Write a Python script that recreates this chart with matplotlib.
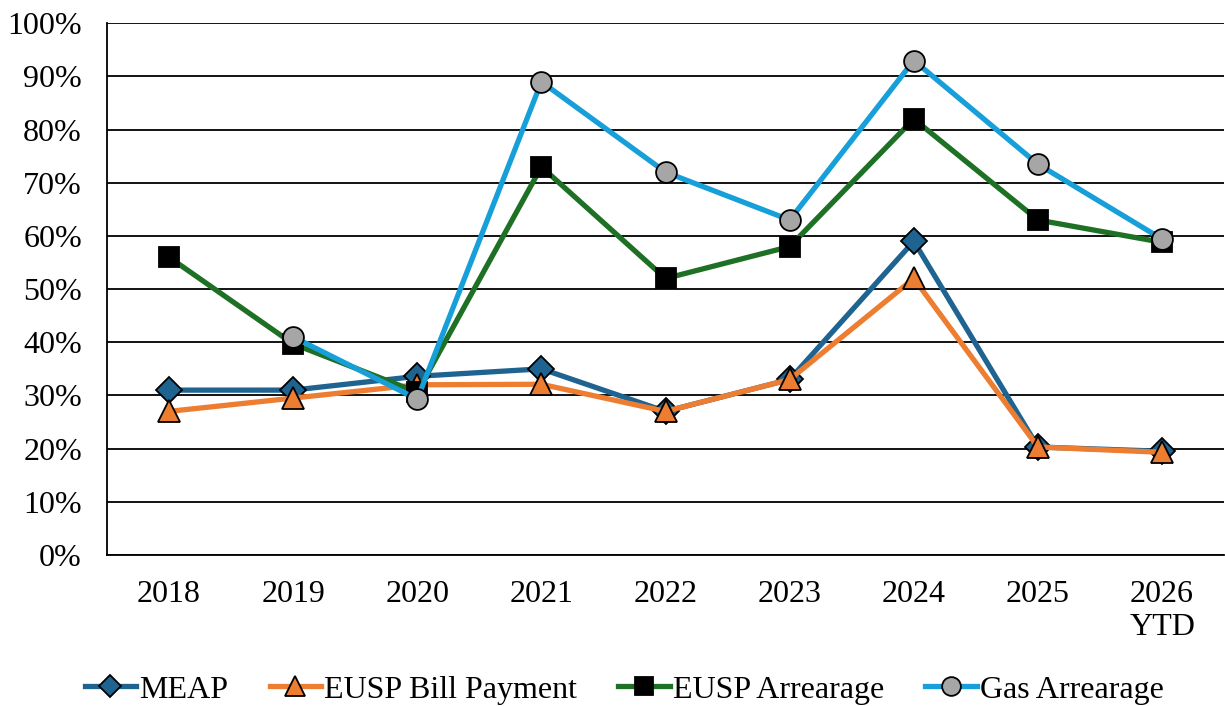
import matplotlib.pyplot as plt
from matplotlib.ticker import PercentFormatter

plt.rcParams["font.family"] = ["Liberation Serif", "DejaVu Serif"]

lata = ["2018", "2019", "2020", "2021", "2022", "2023", "2024", "2025", "2026\nYTD"]
meap = [31, 31, 33.6, 35, 27, 33, 59, 20.3, 19.5]
eusp_bill = [27, 29.5, 32, 32.1, 27, 33, 52, 20.3, 19.3]
eusp_arrear = [56, 39.7, 30.6, 73, 52, 58, 82, 63, 58.8]
gas_arrear = [None, 41, 29.3, 89, 72, 63, 93, 73.5, 59.4]

serie = [
    ("MEAP", meap, "#1F6391", "D", "#1F6391", 13),
    ("EUSP Bill Payment", eusp_bill, "#ED7D31", "^", "#ED7D31", 16),
    ("EUSP Arrearage", eusp_arrear, "#1E7024", "s", "black", 15),
    ("Gas Arrearage", gas_arrear, "#169FD8", "o", "#A6A6A6", 15),
]

fig = plt.figure(figsize=(12.25, 7.06), dpi=100)
ax = fig.add_axes([0.0873, 0.214, 0.912, 0.753])

x = list(range(len(lata)))
for nazwa, y, kolor, marker, wypelnienie, ms in serie:
    xs = [i for i, v in zip(x, y) if v is not None]
    ys = [v for v in y if v is not None]
    ax.plot(xs, ys, color=kolor, linewidth=3.8, marker=marker, markersize=ms,
            markerfacecolor=wypelnienie, markeredgecolor="black",
            markeredgewidth=1.3, label=nazwa)

ax.set_xlim(-0.5, 8.5)
ax.set_ylim(0, 100)
ax.set_yticks(range(0, 101, 10))
ax.yaxis.set_major_formatter(PercentFormatter(decimals=0))
ax.set_xticks(x)
ax.set_xticklabels(lata)
ax.tick_params(axis="both", length=0, labelsize=23)
ax.tick_params(axis="x", pad=18)
ax.tick_params(axis="y", pad=18)
ax.grid(axis="y", color="black", linewidth=1.3)
ax.set_axisbelow(True)
for s in ["top", "right"]:
    ax.spines[s].set_visible(False)
for s in ["left", "bottom"]:
    ax.spines[s].set_color("black")
    ax.spines[s].set_linewidth(1.3)

ax.legend(loc="center", bbox_to_anchor=(0.463, -0.254), ncol=4,
          frameon=False, fontsize=23, handlelength=1.6, handletextpad=0.1,
          columnspacing=1.3, markerscale=0.9)

plt.savefig("out.png")
